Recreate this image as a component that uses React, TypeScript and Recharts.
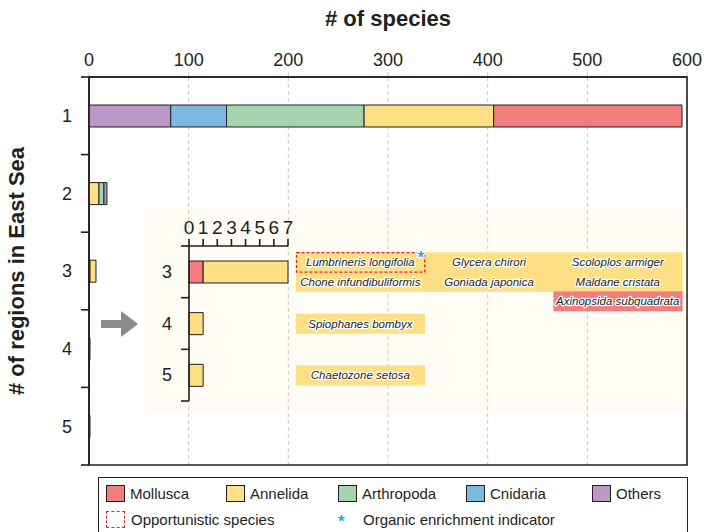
import { Bar, BarChart, CartesianGrid, Cell, ReferenceArea, XAxis, YAxis } from "recharts";

const INK = "#231F20";
const GRID = "#C8C8C8";
const FONT = "'Liberation Sans', Arial, Helvetica, sans-serif";

const regions = ["1", "2", "3", "4", "5"];
const phyla = ["Mollusca", "Annelida", "Arthropoda", "Cnidaria", "Others"];
const phylumColors = ["#F27D7C", "#FEDF83", "#A4D3AC", "#7DB8E1", "#BA98C8"];

const mollusca = [189, 0, 1, 0, 0];
const annelida = [130, 10, 6, 1, 1];
const arthropoda = [138, 5, 0, 0, 0];
const cnidaria = [56, 0, 0, 0, 0];
const others = [82, 3, 0, 0, 0];

// left-to-right order of the stacked pieces in each region
const stackOrder = [
  ["Others", "Cnidaria", "Arthropoda", "Annelida", "Mollusca"],
  ["Annelida", "Arthropoda", "Others"],
  ["Mollusca", "Annelida"],
  ["Annelida"],
  ["Annelida"],
];

const speciesTicks = [0, 100, 200, 300, 400, 500, 600];
const insetRegions = ["3", "4", "5"];
const insetTicks = [0, 1, 2, 3, 4, 5, 6, 7];

const speciesNames = [
  "Lumbrineris longifolia",
  "Glycera chirori",
  "Scoloplos armiger",
  "Chone infundibuliformis",
  "Goniada japonica",
  "Maldane cristata",
  "Axinopsida subquadrata",
  "Spiophanes bombyx",
  "Chaetozone setosa",
];
const speciesRegion = ["3", "3", "3", "3", "3", "3", "3", "4", "5"];
const speciesPhylum = [
  "Annelida", "Annelida", "Annelida", "Annelida", "Annelida", "Annelida",
  "Mollusca", "Annelida", "Annelida",
];
const speciesCol = [0, 1, 2, 0, 1, 2, 2, 0, 0];
const speciesRow = [0, 0, 0, 1, 1, 1, 2, 0, 0];
const opportunistic = ["Lumbrineris longifolia"];
const enrichmentIndicators = ["Lumbrineris longifolia"];

const valuesOf: Record<string, number[]> = {
  Mollusca: mollusca,
  Annelida: annelida,
  Arthropoda: arthropoda,
  Cnidaria: cnidaria,
  Others: others,
};
const colorOf = (p: string) => phylumColors[phyla.indexOf(p)];
const slots = [0, 1, 2, 3, 4];

const table = regions.map((region, i) => {
  const row: Record<string, string | number> = { region };
  stackOrder[i].forEach((p, k) => {
    row[`s${k}`] = valuesOf[p][i];
    row[`p${k}`] = p;
  });
  return row;
});
const insetTable = table.filter((r) => insetRegions.includes(String(r.region)));

// layout
const MAIN_BAND = 388 / regions.length;
const INSET_BAND = 155 / insetRegions.length;
const INSET_PLOT_RIGHT = 142;
const CELL_W = 128.7;
const CELL_H = 19.5;

function bars(rows: Record<string, string | number>[]) {
  return slots.map((k) => (
    <Bar key={k} dataKey={`s${k}`} stackId="a" stroke={INK} strokeWidth={1} isAnimationActive={false}>
      {rows.map((row, i) => (
        <Cell key={i} fill={colorOf(String(row[`p${k}`] ?? "Others"))} />
      ))}
    </Bar>
  ));
}

function boundaryTick(band: number, first: string, fontSize: number) {
  return (props: any) => {
    const { x, y, payload } = props;
    return (
      <g>
        <text x={x - 17} y={y} dy="0.35em" textAnchor="end" fontSize={fontSize} fill={INK}>
          {payload.value}
        </text>
        <line x1={x - 8} x2={x} y1={y + band / 2} y2={y + band / 2} stroke={INK} strokeWidth={1.6} />
        {payload.value === first && (
          <line x1={x - 8} x2={x} y1={y - band / 2} y2={y - band / 2} stroke={INK} strokeWidth={1.6} />
        )}
      </g>
    );
  };
}

const mainTick = boundaryTick(MAIN_BAND, regions[0], 18);
const insetLabelTick = boundaryTick(INSET_BAND, insetRegions[0], 18);

function insetTick(props: any) {
  const { y, payload } = props;
  const idx = speciesNames.map((_, i) => i).filter((i) => speciesRegion[i] === payload.value);
  const mainRows = new Set(idx.filter((i) => speciesPhylum[i] === "Annelida").map((i) => speciesRow[i])).size;
  const cellY = (i: number) => y + (speciesRow[i] - (mainRows - 1) / 2) * CELL_H;
  const cellX = (i: number) => INSET_PLOT_RIGHT + 8 + speciesCol[i] * CELL_W;
  return (
    <g>
      {insetLabelTick(props)}
      {idx.map((i) => (
        <g key={speciesNames[i]}>
          <rect x={cellX(i)} y={cellY(i) - CELL_H / 2} width={CELL_W + 0.5} height={CELL_H + 0.5} fill={colorOf(speciesPhylum[i])} />
          <text
            x={cellX(i) + CELL_W / 2}
            y={cellY(i)}
            dy="0.35em"
            textAnchor="middle"
            fontSize={11.5}
            fontStyle="italic"
            fill={INK}
            stroke="#fff"
            strokeWidth={2.4}
            strokeLinejoin="round"
            style={{ paintOrder: "stroke" }}
          >
            {speciesNames[i]}
          </text>
        </g>
      ))}
      {idx
        .filter((i) => opportunistic.includes(speciesNames[i]))
        .map((i) => (
          <rect key={"o" + i} x={cellX(i) + 0.5} y={cellY(i) - 9.5} width={CELL_W - 0.5} height={19.5} fill="none"
            stroke="#E1262D" strokeWidth={1.3} strokeDasharray="3 2" />
        ))}
      {idx
        .filter((i) => enrichmentIndicators.includes(speciesNames[i]))
        .map((i) => (
          <text key={"a" + i} x={cellX(i) + CELL_W - 4} y={cellY(i) + 1} textAnchor="middle" fontSize={17} fontWeight={700}
            fill="#29A9E1" stroke="#fff" strokeWidth={2} style={{ paintOrder: "stroke" }}>
            *
          </text>
        ))}
    </g>
  );
}

const legendX = [106, 226, 338, 466, 592];

export default function App() {
  return (
    <div style={{ position: "absolute", left: 0, top: 0, width: 704, height: 532, overflow: "hidden", fontFamily: FONT, background: "#fff" }}>
      <div style={{ position: "absolute", left: 0, top: 0 }}>
        <BarChart layout="vertical" width={704} height={470} data={table} barSize={22}
          margin={{ top: 7, right: 17, bottom: 5, left: 0 }}>
          <CartesianGrid horizontal={false} stroke={GRID} strokeDasharray="4 3" />
          <XAxis type="number" orientation="top" domain={[0, 600]} ticks={speciesTicks} height={70} interval={0}
            tickSize={5} tickMargin={6} tickLine={{ stroke: GRID, strokeDasharray: "4 3" }}
            axisLine={{ stroke: INK, strokeWidth: 1.6 }} tick={{ fontSize: 18, fill: INK }}
            label={{ value: "# of species", position: "insideTop", offset: 3, fontSize: 22, fontWeight: 700, fill: INK }} />
          <YAxis type="category" dataKey="region" width={89} tickSize={0} tickMargin={0} tickLine={false} interval={0}
            axisLine={{ stroke: INK, strokeWidth: 1.6 }} tick={mainTick}
            label={{ value: "# of regions in East Sea", angle: -90, position: "insideLeft", offset: 16,
              fontSize: 22, fontWeight: 700, fill: INK, style: { textAnchor: "middle" } }} />
          <ReferenceArea x1={0} x2={600} fill="none" stroke={INK} strokeWidth={1.6} />
          {bars(table)}
        </BarChart>
      </div>

      <svg style={{ position: "absolute", left: 100, top: 310 }} width={40} height={30}>
        <polygon points="1,10 21,10 21,1 38,14 21,27 21,18 1,18" fill="#8C8C8C" />
      </svg>

      <div style={{ position: "absolute", left: 146, top: 208, background: "rgba(245,235,170,0.13)" }}>
        <BarChart layout="vertical" width={541} height={204} data={insetTable} barSize={22}
          margin={{ top: 0, right: 399, bottom: 11, left: 0 }}>
          <XAxis type="number" orientation="top" domain={[0, 7]} ticks={insetTicks} height={38} interval={0}
            tickSize={7} tickMargin={5} tickLine={{ stroke: INK, strokeWidth: 1.6 }}
            axisLine={{ stroke: INK, strokeWidth: 1.6 }} tick={{ fontSize: 19, fill: INK }} />
          <YAxis type="category" dataKey="region" width={43} tickSize={0} tickMargin={0} tickLine={false} interval={0}
            axisLine={{ stroke: INK, strokeWidth: 1.6 }} tick={insetTick} />
          {bars(insetTable)}
        </BarChart>
      </div>

      <div style={{ position: "absolute", left: 98, top: 477, width: 590, height: 62, border: `1.6px solid ${INK}`, boxSizing: "border-box" }} />
      {phyla.map((p, i) => (
        <div key={p} style={{ position: "absolute", left: legendX[i], top: 484, height: 18, display: "flex", alignItems: "center", fontSize: 15, color: INK }}>
          <span style={{ width: 19, height: 17, background: phylumColors[i], border: `1px solid ${INK}`, boxSizing: "border-box", marginRight: 5 }} />
          {p}
        </div>
      ))}
      <div style={{ position: "absolute", left: 106, top: 510, height: 18, display: "flex", alignItems: "center", fontSize: 15, color: INK }}>
        <span style={{ width: 19, height: 17, border: "1.3px dashed #E1262D", boxSizing: "border-box", marginRight: 6 }} />
        Opportunistic species
      </div>
      <div style={{ position: "absolute", left: 338, top: 510, height: 18, display: "flex", alignItems: "center", fontSize: 15, color: INK }}>
        <span style={{ color: "#29A9E1", fontWeight: 700, fontSize: 17, width: 25, marginTop: 6 }}>*</span>
        Organic enrichment indicator
      </div>
    </div>
  );
}
